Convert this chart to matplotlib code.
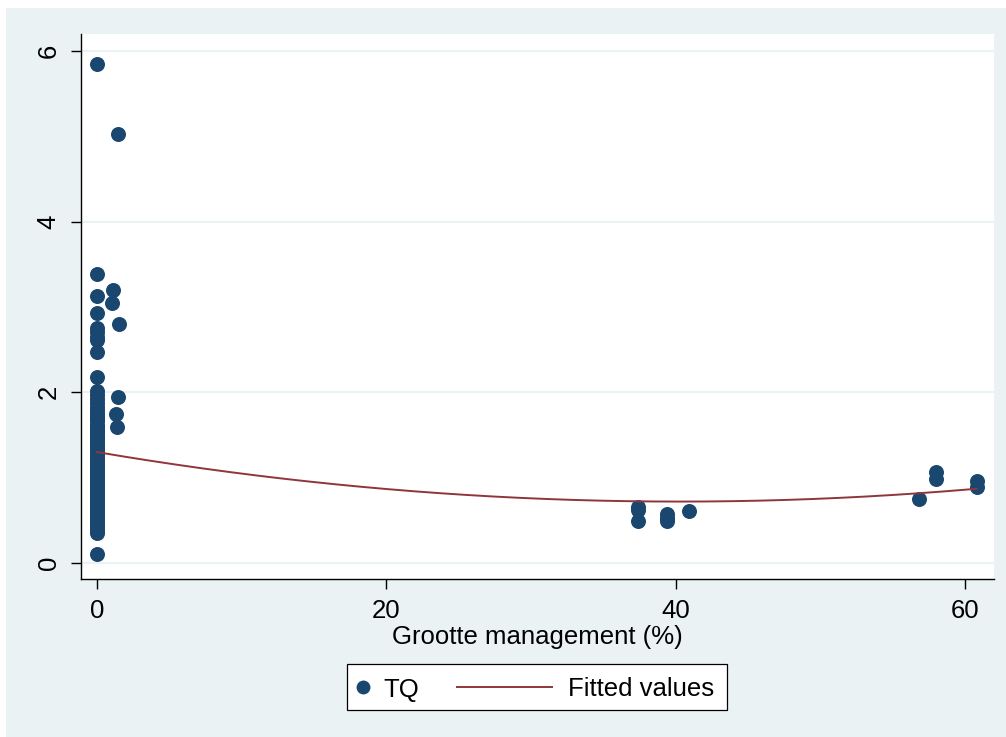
import numpy as np
import matplotlib
matplotlib.use("Agg")
import matplotlib.pyplot as plt
from matplotlib.patches import Rectangle
from matplotlib.lines import Line2D

plt.rcParams['font.family'] = ['Liberation Sans', 'DejaVu Sans']

# Firms without (or with almost no) management ownership
mgmt_zero = [0.0] * 65
tq_zero = [5.85, 3.39, 3.13, 2.93, 2.75, 2.70, 2.65, 2.61, 2.47, 2.18,
           2.01, 1.97, 1.92, 1.88, 1.83, 1.79, 1.76, 1.72, 1.69, 1.66,
           1.62, 1.59, 1.56, 1.53, 1.50, 1.47, 1.44, 1.41, 1.38, 1.35,
           1.33, 1.30, 1.27, 1.24, 1.21, 1.18, 1.16, 1.13, 1.10, 1.07,
           1.04, 1.01, 0.98, 0.95, 0.92, 0.89, 0.86, 0.83, 0.80, 0.77,
           0.74, 0.71, 0.68, 0.65, 0.62, 0.59, 0.56, 0.53, 0.50, 0.47,
           0.44, 0.41, 0.38, 0.35, 0.11]

# Small management stakes
mgmt_small = [1.45, 1.13, 1.05, 1.54, 1.47, 1.31, 1.40]
tq_small = [5.02, 3.20, 3.05, 2.80, 1.95, 1.75, 1.59]

# Large management stakes
mgmt_large = [37.4, 37.4, 37.4, 39.4, 39.4, 39.4, 40.9, 56.8, 58.0, 58.0, 60.8, 60.8]
tq_large = [0.66, 0.62, 0.49, 0.57, 0.53, 0.49, 0.61, 0.75, 1.07, 0.98, 0.96, 0.885]

# Quadratic fit of TQ on management size (a*x^2 + b*x + c)
fit_coef = [0.0003574, -0.0288, 1.30]

x_ticks = [0, 20, 40, 60]
y_ticks = [0, 2, 4, 6]

mgmt = np.array(mgmt_zero + mgmt_small + mgmt_large)
tq = np.array(tq_zero + tq_small + tq_large)

NAVY = '#1A476F'
MAROON = '#90353B'
BG = '#EAF2F3'
FS = 18.5

W, H = 1006, 737
fig = plt.figure(figsize=(W / 100, H / 100), dpi=100)
fig.patch.set_facecolor('white')
# graph region
fig.patches.append(Rectangle((6 / W, 0), 1, 1 - 8 / H, transform=fig.transFigure,
                             facecolor=BG, edgecolor='none', zorder=-10))

left, right, top, bottom = 81, 994, 34, 579
ax = fig.add_axes([left / W, 1 - bottom / H, (right - left) / W, (bottom - top) / H])
ax.set_facecolor('white')

ax.set_xlim(-1.085, 62.0)
ax.set_ylim(-0.187, 6.196)

for yt in y_ticks:
    ax.axhline(yt, color=BG, lw=1.5, zorder=0)

ax.plot(mgmt, tq, 'o', color=NAVY, ms=10.8, mec=NAVY, mew=0, zorder=3, linestyle='none')

xf = np.linspace(mgmt.min(), mgmt.max(), 300)
ax.plot(xf, np.polyval(fit_coef, xf), color=MAROON, lw=1.4, zorder=4)

for s in ['top', 'right']:
    ax.spines[s].set_visible(False)
for s in ['left', 'bottom']:
    ax.spines[s].set_color('black')
    ax.spines[s].set_linewidth(1.0)

ax.set_xticks(x_ticks)
ax.set_yticks(y_ticks)
ax.set_xticklabels([str(v) for v in x_ticks], fontsize=FS)
ax.set_yticklabels([str(v) for v in y_ticks], fontsize=FS, rotation=90, va='center')
ax.tick_params(axis='both', length=7.2, width=1.0, color='black', pad=7.5)

fig.text(537 / W, 1 - 644 / H, 'Grootte management (%)', ha='center', va='baseline', fontsize=FS)

# legend
lx0, ly0, lx1, ly1 = 347, 664, 727, 710
fig.patches.append(Rectangle((lx0 / W, 1 - ly1 / H), (lx1 - lx0) / W, (ly1 - ly0) / H,
                             transform=fig.transFigure, facecolor='white',
                             edgecolor='black', lw=0.9))
ymid = 1 - 687 / H
fig.lines.append(Line2D([363 / W], [ymid], marker='o', color=NAVY, ms=10, mew=0,
                        transform=fig.transFigure, linestyle='none'))
fig.text(383 / W, ymid, 'TQ', ha='left', va='center_baseline', fontsize=FS)
fig.lines.append(Line2D([457 / W, 552 / W], [ymid, ymid], color=MAROON, lw=1.4,
                        transform=fig.transFigure))
fig.text(568 / W, ymid, 'Fitted values', ha='left', va='center_baseline', fontsize=FS)

fig.savefig('out.png', dpi=100, facecolor=fig.get_facecolor())
